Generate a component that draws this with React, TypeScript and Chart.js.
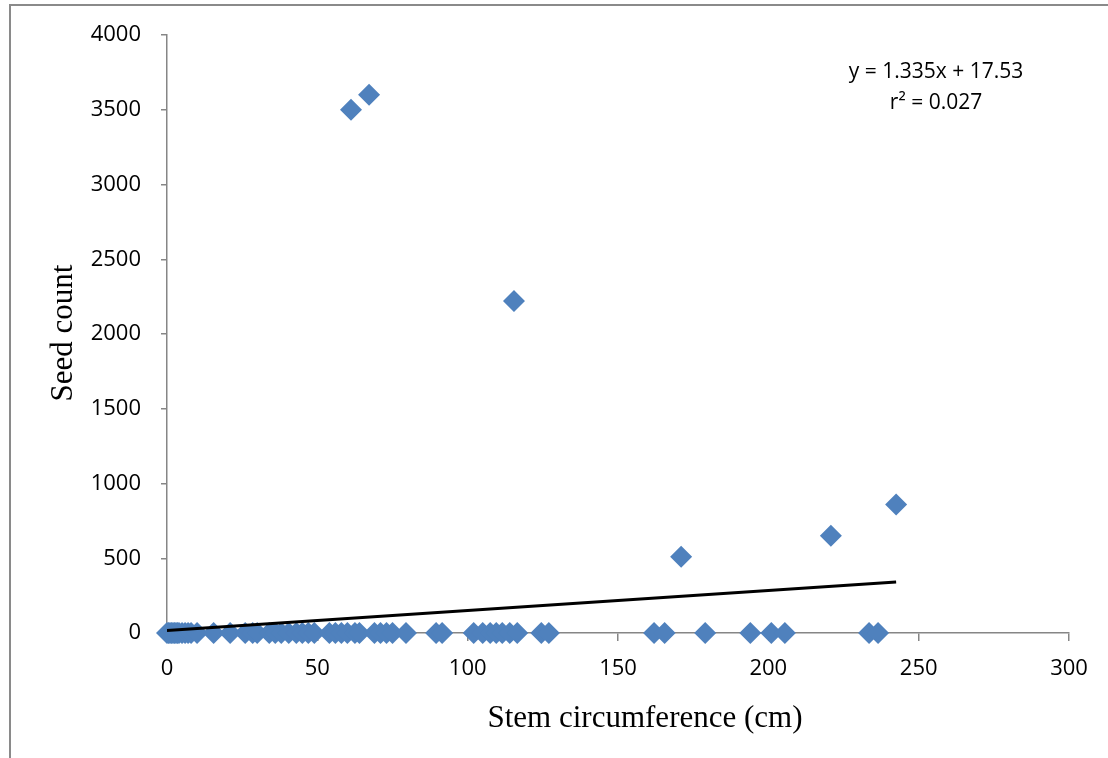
import { useEffect, useRef } from "react";
import { Chart, registerables } from "chart.js";

Chart.register(...registerables);

// Stem circumference (cm) of individuals with zero seeds
const zeroSeedCircumference = [
  0, 0.5, 1, 1.5, 2, 2.5, 3, 3.5, 4, 5, 6, 7, 8, 10, 15.5, 21, 26, 28.5, 30,
  34, 36, 38, 40.5, 43, 45, 47, 49, 54, 56, 58, 60, 62.5, 64, 69, 71, 73, 75,
  79.5, 89.5, 91.5, 102, 105, 107.5, 109.5, 111.5, 114, 116.5, 124.5, 127,
  162, 165.5, 179, 194, 201, 205.5, 233.5, 236.5,
];
const zeroSeedCounts = zeroSeedCircumference.map(() => 0);

// Individuals with seeds
const seededCircumference = [61.2, 67.2, 115.4, 171, 220.8, 242.5];
const seededCounts = [3500, 3600, 2220, 510, 650, 860];

// Linear trend line (y = 1.335x + 17.53) end points
const trendX = [0, 242.5];
const trendY = [17.5, 341.3];

const xTitle = "Stem circumference (cm)";
const yTitle = "Seed count";
const equationLines = ["y = 1.335x + 17.53", "r\u00B2 = 0.027"];

const xMin = 0;
const xMax = 300;
const xStep = 50;
const yMin = 0;
const yMax = 4000;
const yStep = 500;

const AXIS_COLOR = "#868686";
const POINT_COLOR = "#4F81BD";
const TICK_FONT = '"Open Sans", "Noto Sans", sans-serif';

export default function App() {
  const canvasRef = useRef<HTMLCanvasElement | null>(null);

  useEffect(() => {
    const canvas = canvasRef.current;
    if (!canvas) return;

    const scatterPoints = [
      ...zeroSeedCircumference.map((x, i) => ({ x, y: zeroSeedCounts[i] })),
      ...seededCircumference.map((x, i) => ({ x, y: seededCounts[i] })),
    ];
    const trendPoints = trendX.map((x, i) => ({ x, y: trendY[i] }));

    const textPlugin = {
      id: "textAnnotations",
      afterDraw(chart: any) {
        const ctx = chart.ctx as CanvasRenderingContext2D;
        ctx.save();
        ctx.fillStyle = "#000";
        ctx.textAlign = "center";
        ctx.textBaseline = "middle";
        ctx.font = '31px "Liberation Serif", "Times New Roman", serif';
        ctx.fillText(xTitle, 645, 719);
        ctx.save();
        ctx.translate(64, 333);
        ctx.rotate(-Math.PI / 2);
        ctx.fillText(yTitle, 0, 0);
        ctx.restore();
        ctx.font = `21px ${TICK_FONT}`;
        ctx.fillText(equationLines[0], 936, 72);
        ctx.fillText(equationLines[1], 936, 103);
        ctx.restore();
      },
    };

    const chart = new Chart(canvas, {
      type: "scatter",
      data: {
        datasets: [
          {
            type: "line",
            label: "Trend",
            data: trendPoints,
            borderColor: "#000",
            borderWidth: 3,
            pointRadius: 0,
            fill: false,
            order: 0,
          } as any,
          {
            label: "Seed count",
            data: scatterPoints,
            pointStyle: "rectRot",
            pointRadius: 11,
            pointHoverRadius: 11,
            backgroundColor: POINT_COLOR,
            borderColor: POINT_COLOR,
            borderWidth: 0,
            clip: false,
            order: 1,
          } as any,
        ],
      },
      options: {
        responsive: false,
        animation: false,
        events: [],
        layout: { padding: { top: 35, right: 39, left: 0, bottom: 0 } },
        plugins: {
          legend: { display: false },
          tooltip: { enabled: false },
        },
        scales: {
          x: {
            type: "linear",
            min: xMin,
            max: xMax,
            afterFit: (s: any) => {
              s.height = 125;
            },
            ticks: {
              stepSize: xStep,
              color: "#000",
              padding: 15,
              font: { family: TICK_FONT, size: 22 },
              callback: (v: any) => String(v),
            },
            grid: {
              display: true,
              drawOnChartArea: false,
              drawTicks: true,
              tickLength: 8,
              color: AXIS_COLOR,
              lineWidth: 1.5,
            },
            border: { display: true, color: AXIS_COLOR, width: 1.5 },
          },
          y: {
            type: "linear",
            min: yMin,
            max: yMax,
            afterFit: (s: any) => {
              s.width = 167;
            },
            ticks: {
              stepSize: yStep,
              color: "#000",
              padding: 20,
              font: { family: TICK_FONT, size: 22 },
              callback: (v: any) => String(v),
            },
            grid: {
              display: true,
              drawOnChartArea: false,
              drawTicks: true,
              tickLength: 6,
              color: AXIS_COLOR,
              lineWidth: 1.5,
            },
            border: { display: true, color: AXIS_COLOR, width: 1.5 },
          },
        },
      },
      plugins: [textPlugin],
    });

    return () => chart.destroy();
  }, []);

  return (
    <div
      style={{
        position: "absolute",
        left: 0,
        top: 0,
        width: 1108,
        height: 758,
        overflow: "hidden",
        background: "#fff",
      }}
    >
      <div
        style={{
          position: "absolute",
          left: 9,
          top: 4,
          width: 1200,
          height: 800,
          borderLeft: "2px solid #8a8a8a",
          borderTop: "2px solid #8a8a8a",
        }}
      />
      <canvas
        ref={canvasRef}
        width={1108}
        height={758}
        style={{ position: "absolute", left: 0, top: 0, width: 1108, height: 758 }}
      />
    </div>
  );
}
